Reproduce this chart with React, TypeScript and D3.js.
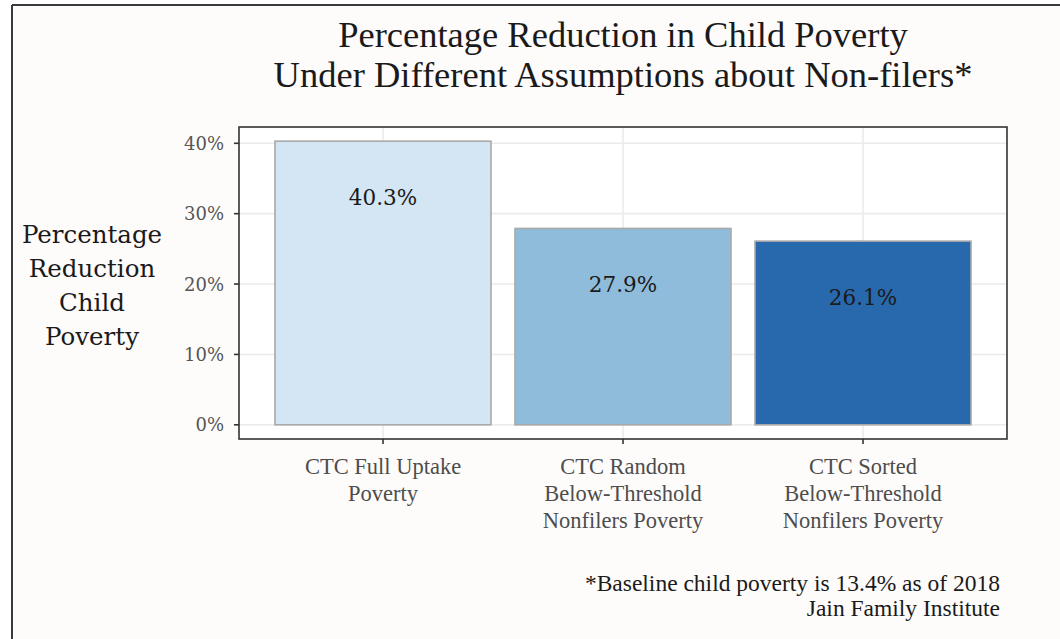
import React from "react";
import * as d3 from "d3";

const categories = ["CTC Full Uptake Poverty", "CTC Random Below-Threshold Nonfilers Poverty", "CTC Sorted Below-Threshold Nonfilers Poverty"];
const categoryLines = [["CTC Full Uptake", "Poverty"], ["CTC Random", "Below-Threshold", "Nonfilers Poverty"], ["CTC Sorted", "Below-Threshold", "Nonfilers Poverty"]];
const values = [40.3, 27.9, 26.1];
const barColors = ["#d4e5f4", "#8fbcda", "#2869ae"];
const yTicks = [0, 10, 20, 30, 40];
const titleLines = ["Percentage Reduction in Child Poverty", "Under Different Assumptions about Non-filers*"];
const yTitleLines = ["Percentage", "Reduction", "Child", "Poverty"];
const captionLines = ["*Baseline child poverty is 13.4% as of 2018", "Jain Family Institute"];

const W = 1060, H = 639;
const panel = { left: 239, right: 1007, top: 127, bottom: 439 };
const serifC = "'Liberation Serif', serif";
const serifW = "'DejaVu Serif', serif";

export default function App() {
  const maxV = d3.max(values) as number;
  const pad = maxV * 0.05;
  const y = d3.scaleLinear().domain([-pad, maxV + pad]).range([panel.bottom, panel.top]);
  const x = d3.scaleLinear().domain([0.4, categories.length + 0.6]).range([panel.left, panel.right]);
  const bw = x(1.45) - x(1);
  return (
    <div style={{ position: "absolute", left: 0, top: 0 }}>
      <svg width={W} height={H} style={{ display: "block" }}>
        <rect x={0} y={0} width={W} height={H} fill="#ffffff" />
        <rect x={12} y={5} width={W - 12} height={H - 5} fill="#fefcfb" />
        <line x1={12} x2={W} y1={5} y2={5} stroke="#3a3a3a" strokeWidth={2} />
        <line x1={12} x2={12} y1={5} y2={H} stroke="#3a3a3a" strokeWidth={2} />
        {/* panel background */}
        <rect x={panel.left} y={panel.top} width={panel.right - panel.left} height={panel.bottom - panel.top} fill="#ffffff" />
        {/* grid */}
        {yTicks.map((t) => (
          <line key={"g" + t} x1={panel.left} x2={panel.right} y1={y(t)} y2={y(t)} stroke="#ebebeb" strokeWidth={1.6} />
        ))}
        {categories.map((c, i) => (
          <line key={"gv" + i} x1={x(i + 1)} x2={x(i + 1)} y1={panel.top} y2={panel.bottom} stroke="#ebebeb" strokeWidth={1.6} />
        ))}
        {/* bars */}
        {values.map((v, i) => (
          <rect key={"b" + i} x={x(i + 1) - bw} y={y(v)} width={bw * 2} height={y(0) - y(v)} fill={barColors[i]} stroke="#a9a9a9" strokeWidth={1.6} />
        ))}
        {values.map((v, i) => (
          <text key={"l" + i} x={x(i + 1)} y={y(v - 8)} textAnchor="middle" dominantBaseline="central" fontFamily={serifW} fontSize={21.5} fill="#1a1a1a">
            {v.toFixed(1) + "%"}
          </text>
        ))}
        {/* panel border */}
        <rect x={panel.left} y={panel.top} width={panel.right - panel.left} height={panel.bottom - panel.top} fill="none" stroke="#333333" strokeWidth={1.6} />
        {/* y axis */}
        {yTicks.map((t) => (
          <g key={"yt" + t}>
            <line x1={panel.left - 5} x2={panel.left} y1={y(t)} y2={y(t)} stroke="#333333" strokeWidth={1.6} />
            <text x={panel.left - 15} y={y(t)} textAnchor="end" dominantBaseline="central" fontFamily={serifW} fontSize={18} fill="#555555">
              {t + "%"}
            </text>
          </g>
        ))}
        {/* x axis */}
        {categoryLines.map((lines, i) => (
          <g key={"xt" + i}>
            <line x1={x(i + 1)} x2={x(i + 1)} y1={panel.bottom} y2={panel.bottom + 5} stroke="#333333" strokeWidth={1.6} />
            {lines.map((ln, j) => (
              <text key={j} x={x(i + 1)} y={466 + j * 27} textAnchor="middle" dominantBaseline="central" fontFamily={serifC} fontSize={22.5} fill="#4d4d4d">
                {ln}
              </text>
            ))}
          </g>
        ))}
        {/* y title */}
        {yTitleLines.map((ln, j) => (
          <text key={"yl" + j} x={92} y={234 + j * 34.3} textAnchor="middle" dominantBaseline="central" fontFamily={serifW} fontSize={24.5} fill="#1a1a1a">
            {ln}
          </text>
        ))}
        {/* title */}
        {titleLines.map((ln, j) => (
          <text key={"t" + j} x={(panel.left + panel.right) / 2} y={34 + j * 40} textAnchor="middle" dominantBaseline="central" fontFamily={serifC} fontSize={36.5} fill="#1a1a1a">
            {ln}
          </text>
        ))}
        {/* caption */}
        {captionLines.map((ln, j) => (
          <text key={"c" + j} x={1000} y={583 + j * 25} textAnchor="end" dominantBaseline="central" fontFamily={serifC} fontSize={23.5} fill="#1a1a1a">
            {ln}
          </text>
        ))}
      </svg>
    </div>
  );
}
